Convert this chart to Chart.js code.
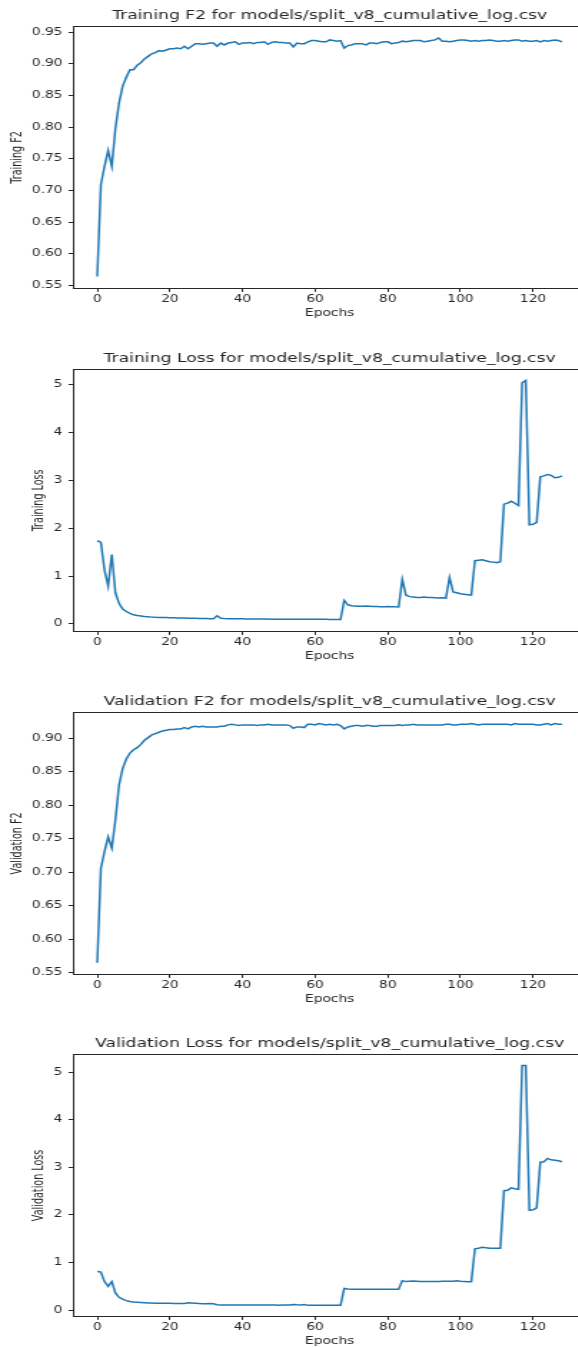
<!DOCTYPE html>
<html><head><meta charset="utf-8">
<script src="https://cdn.jsdelivr.net/npm/chart.js@4"></script>
<style>
html,body{margin:0;padding:0;background:#fff;width:578px;height:1347px;overflow:hidden;position:relative}
.box{position:absolute;left:0;width:420px;height:343px;transform:scaleX(1.43);transform-origin:0 0}
</style></head><body>
<div class="box" style="top:0px"><canvas id="c1"></canvas></div>
<div class="box" style="top:343px"><canvas id="c2"></canvas></div>
<div class="box" style="top:686px"><canvas id="c3"></canvas></div>
<div class="box" style="top:1028px"><canvas id="c4"></canvas></div>
<script>
const epochs = Array.from({length:129},(_, i)=>i);

const trainF2 = [0.564,0.709,0.738,0.763,0.738,0.798,0.838,0.865,0.879,0.891,
0.891,0.898,0.902,0.908,0.912,0.916,0.918,0.921,0.920,0.922,
0.924,0.924,0.925,0.924,0.928,0.924,0.928,0.932,0.932,0.931,
0.932,0.933,0.933,0.928,0.933,0.930,0.933,0.934,0.935,0.931,
0.933,0.933,0.934,0.932,0.934,0.934,0.935,0.931,0.934,0.935,
0.934,0.934,0.933,0.933,0.927,0.933,0.932,0.932,0.935,0.937,
0.937,0.936,0.935,0.935,0.938,0.937,0.936,0.937,0.925,0.929,
0.930,0.932,0.932,0.932,0.930,0.933,0.933,0.932,0.934,0.935,
0.935,0.932,0.933,0.934,0.936,0.935,0.936,0.937,0.937,0.937,
0.935,0.936,0.937,0.938,0.941,0.936,0.936,0.935,0.936,0.937,
0.938,0.938,0.937,0.936,0.937,0.936,0.937,0.937,0.938,0.937,
0.936,0.936,0.937,0.936,0.937,0.938,0.938,0.936,0.937,0.936,
0.936,0.937,0.935,0.937,0.936,0.937,0.938,0.937,0.935];

const trainLoss = [1.74,1.70,1.13,0.79,1.45,0.65,0.43,0.31,0.26,0.22,
0.19,0.175,0.165,0.155,0.148,0.142,0.138,0.136,0.134,0.132,
0.130,0.128,0.126,0.124,0.122,0.120,0.118,0.116,0.114,0.112,
0.111,0.110,0.110,0.17,0.12,0.112,0.110,0.109,0.108,0.107,
0.106,0.105,0.104,0.103,0.102,0.101,0.101,0.101,0.100,0.100,
0.100,0.100,0.100,0.100,0.100,0.099,0.099,0.098,0.098,0.097,
0.097,0.096,0.096,0.096,0.095,0.095,0.095,0.095,0.49,0.40,
0.38,0.375,0.37,0.37,0.375,0.37,0.365,0.365,0.36,0.36,
0.365,0.36,0.36,0.355,0.93,0.60,0.57,0.56,0.55,0.55,
0.56,0.55,0.55,0.545,0.54,0.545,0.54,0.97,0.67,0.65,
0.63,0.62,0.61,0.60,1.32,1.33,1.34,1.32,1.30,1.29,
1.28,1.30,2.50,2.52,2.56,2.52,2.47,5.03,5.08,2.07,
2.08,2.12,3.07,3.09,3.12,3.10,3.05,3.06,3.09];

const valF2 = [0.565,0.706,0.731,0.753,0.736,0.778,0.830,0.855,0.869,0.878,
0.883,0.886,0.891,0.897,0.901,0.905,0.907,0.909,0.911,0.912,
0.913,0.913,0.914,0.914,0.916,0.914,0.917,0.918,0.917,0.918,
0.917,0.917,0.917,0.917,0.918,0.918,0.920,0.921,0.920,0.919,
0.920,0.920,0.920,0.920,0.919,0.920,0.920,0.921,0.920,0.920,
0.920,0.920,0.920,0.919,0.915,0.917,0.917,0.916,0.921,0.921,
0.920,0.922,0.921,0.920,0.921,0.920,0.921,0.919,0.914,0.917,
0.918,0.919,0.919,0.918,0.919,0.919,0.918,0.918,0.919,0.919,
0.919,0.919,0.919,0.920,0.919,0.920,0.920,0.921,0.920,0.920,
0.920,0.920,0.920,0.920,0.920,0.920,0.921,0.921,0.920,0.920,
0.921,0.921,0.921,0.922,0.921,0.920,0.921,0.921,0.921,0.921,
0.921,0.921,0.921,0.921,0.920,0.922,0.921,0.921,0.921,0.921,
0.921,0.920,0.920,0.921,0.922,0.920,0.922,0.921,0.921];

const valLoss = [0.81,0.80,0.60,0.50,0.60,0.36,0.27,0.23,0.20,0.18,
0.17,0.165,0.16,0.155,0.15,0.148,0.146,0.145,0.144,0.143,
0.142,0.141,0.140,0.140,0.140,0.155,0.150,0.145,0.140,0.135,
0.135,0.140,0.135,0.115,0.110,0.108,0.107,0.107,0.107,0.107,
0.107,0.106,0.106,0.106,0.106,0.106,0.106,0.106,0.106,0.106,
0.105,0.106,0.106,0.108,0.120,0.112,0.108,0.118,0.100,0.100,
0.100,0.100,0.100,0.100,0.100,0.100,0.100,0.100,0.455,0.445,
0.44,0.44,0.44,0.44,0.44,0.44,0.44,0.44,0.44,0.44,
0.44,0.44,0.44,0.44,0.62,0.60,0.605,0.61,0.605,0.60,
0.60,0.60,0.60,0.60,0.60,0.605,0.605,0.605,0.605,0.615,
0.605,0.60,0.595,0.595,1.29,1.30,1.32,1.31,1.30,1.30,
1.30,1.30,2.51,2.52,2.57,2.55,2.54,5.14,5.14,2.10,
2.11,2.15,3.11,3.12,3.19,3.16,3.15,3.14,3.12];

const xTicks = [0,20,40,60,80,100,120];
const f2TrainTicks = [0.55,0.60,0.65,0.70,0.75,0.80,0.85,0.90,0.95];
const f2ValTicks = [0.55,0.60,0.65,0.70,0.75,0.80,0.85,0.90];
const lossTicks = [0,1,2,3,4,5];

const INK = '#262626';
const LINE = '#1f77b4';
const FONT = "'DejaVu Sans', sans-serif";

const frame = {
  id: 'frame',
  afterDraw(chart) {
    const a = chart.chartArea, ctx = chart.ctx;
    ctx.save();
    ctx.strokeStyle = INK; ctx.lineWidth = 1;
    ctx.beginPath();
    ctx.moveTo(a.left, Math.round(a.top) + 0.5);
    ctx.lineTo(a.right, Math.round(a.top) + 0.5);
    ctx.lineTo(a.right, a.bottom);
    ctx.stroke();
    ctx.restore();
  }
};

function makeChart(id, title, yLabel, values, yTicks, yMin, yMax, yTitlePad, decimals) {
  new Chart(document.getElementById(id), {
    type: 'line',
    data: {
      datasets: [{
        data: epochs.map((e, i) => ({x: e, y: values[i]})),
        borderColor: LINE, borderWidth: 1.5, pointRadius: 0, tension: 0, fill: false
      }]
    },
    options: {
      responsive: true, maintainAspectRatio: false, animation: false, devicePixelRatio: 1,
      layout: {padding: {left: 0, right: 10.7, top: 0, bottom: 0}},
      plugins: {
        legend: {display: false}, tooltip: {enabled: false},
        title: {
          display: true, text: title, color: INK, fullSize: false,
          font: {family: FONT, size: 12, weight: 'normal'},
          padding: {top: 8.6, bottom: 3.3}
        }
      },
      scales: {
        x: {
          type: 'linear', min: -6.4, max: 134.4,
          afterBuildTicks: s => { s.ticks = xTicks.map(v => ({value: v})); },
          afterFit: s => { s.height = 343 - 288.5; s.paddingLeft = 0; s.paddingRight = 0; },
          grid: {display: true, drawOnChartArea: false, drawTicks: true, tickLength: 3.4, tickColor: INK},
          border: {display: true, color: INK, width: 1},
          ticks: {color: INK, font: {family: FONT, size: 9.6}, padding: 1.9, maxRotation: 0, autoSkip: false},
          title: {display: true, text: 'Epochs', color: INK, font: {family: FONT, size: 9.6}, padding: {top: 0, bottom: 23.9}}
        },
        y: {
          type: 'linear', min: yMin, max: yMax,
          afterBuildTicks: s => { s.ticks = yTicks.map(v => ({value: v})); },
          afterFit: s => { s.width = 51.75; s.paddingTop = 0; s.paddingBottom = 0; },
          grid: {display: true, drawOnChartArea: false, drawTicks: true, tickLength: 3.8, tickColor: INK},
          border: {display: true, color: INK, width: 1},
          ticks: {color: INK, font: {family: FONT, size: 9.6}, padding: 4.3, autoSkip: false,
                  callback: v => v.toFixed(decimals)},
          title: {display: true, text: yLabel, color: INK,
                  font: {family: FONT, size: 9.6},
                  padding: {top: yTitlePad, bottom: 0}}
        }
      }
    },
    plugins: [frame]
  });
}

makeChart('c1', 'Training F2 for models/split_v8_cumulative_log.csv', 'Training F2', trainF2, f2TrainTicks, 0.545, 0.9595, 6.3, 2);
makeChart('c2', 'Training Loss for models/split_v8_cumulative_log.csv', 'Training Loss', trainLoss, lossTicks, -0.158, 5.315, 22.1, 0);
makeChart('c3', 'Validation F2 for models/split_v8_cumulative_log.csv', 'Validation F2', valF2, f2ValTicks, 0.5475, 0.9388, 6.3, 2);
makeChart('c4', 'Validation Loss for models/split_v8_cumulative_log.csv', 'Validation Loss', valLoss, lossTicks, -0.134, 5.378, 22.1, 0);
</script>
</body></html>
